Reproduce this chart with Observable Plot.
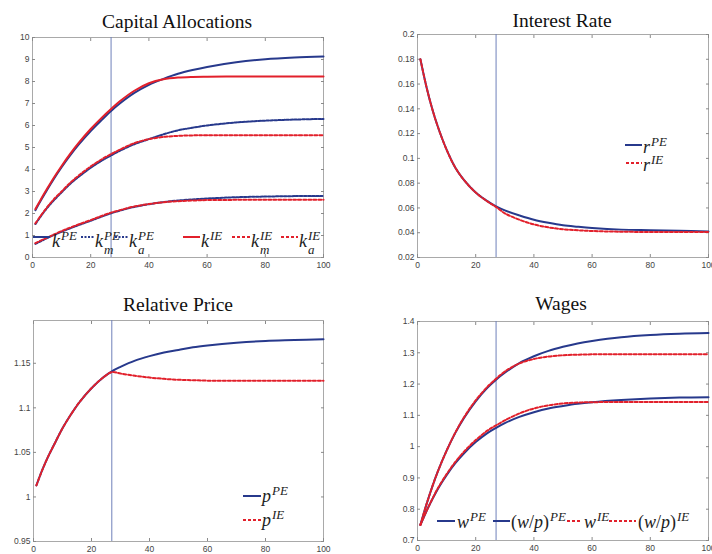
<!DOCTYPE html>
<html><head><meta charset="utf-8">
<script src="https://cdn.jsdelivr.net/npm/d3@7"></script>
<script src="https://cdn.jsdelivr.net/npm/@observablehq/plot@0.6"></script>
<style>
html,body{margin:0;padding:0;background:#fff;}
#root{position:relative;width:712px;height:554px;overflow:hidden;background:#fff;}
.title{position:absolute;font-family:"Liberation Serif","Times New Roman",serif;font-size:19.5px;line-height:20px;color:#111;transform:translateX(-50%);white-space:nowrap;}
.lg{position:absolute;font-family:"Liberation Serif","Times New Roman",serif;font-style:italic;font-size:18px;line-height:14px;color:#222;white-space:nowrap;}
.lg .up{font-style:normal;}
.sp{font-size:13px;line-height:9px;position:relative;top:-7px;margin-left:1px;}
.st{position:relative;display:inline-block;font-size:13px;line-height:9px;margin-left:1px;}
.st .a{position:relative;top:-7px;line-height:9px;}
.st .b{position:absolute;left:0;top:7px;line-height:9px;}
#overlay{position:absolute;left:0;top:0;pointer-events:none;}
</style>
</head><body>
<div id="root"></div>
<script>
// ---------- data ----------
const t = [1,3,5,7,10,13,16,20,24,27,30,35,40,45,50,55,60,70,80,90,100];
const xTicks = [0,20,40,60,80,100];
const vline = [27];

// Capital Allocations
const kPE  = [2.15,2.62,3.07,3.5,4.1,4.65,5.15,5.75,6.28,6.66,7.0,7.48,7.85,8.12,8.35,8.52,8.66,8.87,9.01,9.09,9.14];
const kmPE = [1.52,1.9,2.25,2.55,2.96,3.35,3.68,4.08,4.42,4.64,4.85,5.15,5.38,5.6,5.78,5.9,6.0,6.14,6.22,6.27,6.3];
const kaPE = [0.62,0.75,0.88,1.0,1.17,1.33,1.48,1.67,1.87,2.01,2.13,2.3,2.42,2.52,2.59,2.64,2.68,2.74,2.77,2.79,2.8];
const kIE  = [2.2,2.67,3.12,3.56,4.16,4.72,5.23,5.84,6.38,6.75,7.1,7.58,7.92,8.1,8.18,8.21,8.22,8.23,8.23,8.23,8.23];
const kmIE = [1.55,1.93,2.28,2.6,3.0,3.4,3.74,4.14,4.48,4.7,4.9,5.2,5.38,5.48,5.53,5.55,5.56,5.56,5.56,5.56,5.56];
const kaIE = [0.65,0.78,0.9,1.02,1.2,1.36,1.51,1.7,1.9,2.04,2.15,2.32,2.43,2.51,2.56,2.59,2.61,2.62,2.62,2.62,2.62];
const capTicks = [0,1,2,3,4,5,6,7,8,9,10];

// Interest Rate
const rPE = [0.18,0.1585,0.1405,0.1255,0.107,0.0925,0.0825,0.0725,0.0655,0.0612,0.058,0.054,0.0505,0.048,0.046,0.0448,0.0438,0.0425,0.042,0.0415,0.041];
const rIE = [0.18,0.1585,0.1405,0.1255,0.107,0.0925,0.0825,0.0724,0.0653,0.0608,0.0557,0.0505,0.0467,0.0443,0.0428,0.042,0.0414,0.0408,0.0406,0.0405,0.0405];
const rTicks = [0.02,0.04,0.06,0.08,0.1,0.12,0.14,0.16,0.18,0.2];

// Relative Price
const pPE = [1.013,1.03,1.045,1.058,1.077,1.093,1.107,1.122,1.134,1.141,1.146,1.153,1.158,1.162,1.165,1.168,1.170,1.173,1.175,1.176,1.177];
const pIE = [1.013,1.03,1.045,1.058,1.077,1.093,1.107,1.122,1.134,1.140,1.1385,1.136,1.134,1.1325,1.1315,1.131,1.1305,1.1303,1.1303,1.1303,1.1303];
const pTicks = [0.95,1,1.05,1.1,1.15];

// Wages
const wPE  = [0.75,0.813,0.87,0.921,0.987,1.044,1.092,1.145,1.188,1.214,1.236,1.267,1.289,1.306,1.319,1.33,1.338,1.35,1.357,1.361,1.363];
const wpPE = [0.75,0.792,0.83,0.865,0.909,0.947,0.979,1.0145,1.043,1.06,1.075,1.095,1.11,1.122,1.13,1.137,1.142,1.149,1.154,1.157,1.158];
const wIE  = [0.75,0.813,0.87,0.921,0.987,1.045,1.094,1.148,1.191,1.217,1.24,1.266,1.28,1.288,1.292,1.294,1.295,1.295,1.295,1.295,1.295];
const wpIE = [0.75,0.792,0.831,0.867,0.912,0.951,0.984,1.021,1.051,1.068,1.084,1.106,1.122,1.132,1.138,1.141,1.142,1.143,1.143,1.143,1.143];
const wTicks = [0.7,0.8,0.9,1,1.1,1.2,1.3,1.4];

// ---------- drawing ----------
const BLUE = "#27398c", RED = "#e2202b", VLINE = "#6f80ba";
const root = document.getElementById("root");
const rows = ys => t.map((x, i) => ({x, y: ys[i]}));

function panel(cfg) {
  const axisStyle = {stroke: "#8a8a8a", label: null};
  const marks = [
    Plot.frame({stroke: "#a9a9a9"}),
    Plot.axisX({ticks: xTicks, tickSize: -3, tickPadding: 7, ...axisStyle}),
    Plot.axisX({anchor: "top", ticks: xTicks, tickSize: -3, tickFormat: () => "", ...axisStyle}),
    Plot.axisY({ticks: cfg.yTicks, tickSize: -3, tickPadding: 6, tickFormat: d => String(d), ...axisStyle}),
    Plot.axisY({anchor: "right", ticks: cfg.yTicks, tickSize: -3, tickFormat: () => "", ...axisStyle}),
    Plot.ruleX(vline, {stroke: VLINE, strokeWidth: 1}),
    ...cfg.series.map(s => Plot.line(rows(s.values), {
      x: "x", y: "y", stroke: s.color, strokeWidth: 2,
      strokeDasharray: s.dash || null, curve: "catmull-rom"
    }))
  ];
  const svg = Plot.plot({
    width: cfg.w, height: cfg.h,
    marginLeft: cfg.m[0], marginTop: cfg.m[1], marginRight: cfg.m[2], marginBottom: cfg.m[3],
    x: {domain: [0, 100]},
    y: {domain: cfg.yDomain},
    style: {fontSize: "8.5px", fontFamily: "'Liberation Sans', Arial, sans-serif", color: "#444", background: "transparent", overflow: "visible"},
    marks
  });
  svg.style.position = "absolute";
  svg.style.left = cfg.left + "px";
  svg.style.top = cfg.top + "px";
  root.appendChild(svg);
  const ti = document.createElement("div");
  ti.className = "title";
  ti.textContent = cfg.title;
  ti.style.left = cfg.titleX + "px";
  ti.style.top = (cfg.titleBase - 15.5) + "px";
  root.appendChild(ti);
}

panel({left: 0, top: 0, w: 345, h: 275, m: [32, 37, 22, 18], yDomain: [0, 10], yTicks: capTicks,
  title: "Capital Allocations", titleX: 177, titleBase: 27,
  series: [
    {values: kPE, color: BLUE},
    {values: kmPE, color: BLUE, dash: "2.5,1.5"},
    {values: kaPE, color: BLUE, dash: "2.5,1.5"},
    {values: kIE, color: RED},
    {values: kmIE, color: RED, dash: "3,2"},
    {values: kaIE, color: RED, dash: "3,2"}
  ]});
panel({left: 360, top: 0, w: 352, h: 275, m: [57, 34, 4, 18], yDomain: [0.02, 0.2], yTicks: rTicks,
  title: "Interest Rate", titleX: 562, titleBase: 26,
  series: [{values: rPE, color: BLUE}, {values: rIE, color: RED, dash: "3,2"}]});
panel({left: 0, top: 280, w: 345, h: 274, m: [33, 40, 22, 13], yDomain: [0.95, 1.198], yTicks: pTicks,
  title: "Relative Price", titleX: 178, titleBase: 310,
  series: [{values: pPE, color: BLUE}, {values: pIE, color: RED, dash: "3,2"}]});
panel({left: 360, top: 280, w: 352, h: 274, m: [57, 41, 4, 14], yDomain: [0.7, 1.4], yTicks: wTicks,
  title: "Wages", titleX: 561, titleBase: 309,
  series: [{values: wPE, color: BLUE}, {values: wpPE, color: BLUE}, {values: wIE, color: RED, dash: "3,2"}, {values: wpIE, color: RED, dash: "3,2"}]});

// ---------- legends ----------
const overlay = d3.select(root).append("svg").attr("id", "overlay").attr("width", 712).attr("height", 554);
function item(x1, x2, y, color, dash, lx, base, html) {
  overlay.append("line").attr("x1", x1).attr("x2", x2).attr("y1", y).attr("y2", y)
    .attr("stroke", color).attr("stroke-width", 2).attr("stroke-dasharray", dash || null);
  const d = document.createElement("div");
  d.className = "lg";
  d.innerHTML = html;
  d.style.left = lx + "px";
  d.style.top = (base - 12) + "px";
  root.appendChild(d);
}
const sup = (b, s) => `${b}<span class="sp">${s}</span>`;
const ss = (b, s, sub) => `${b}<span class="st"><span class="a">${s}</span><span class="b">${sub}</span></span>`;
const wp = `<span class="up">(</span>w<span class="up">/</span>p<span class="up">)</span>`;

item(33, 50, 237, BLUE, null, 52, 246, sup("k", "PE"));
item(81, 95, 237, BLUE, "2,1.5", 95, 246, ss("k", "PE", "m"));
item(115, 129, 237, BLUE, "2,1.5", 129, 246, ss("k", "PE", "a"));
item(183, 200, 237, RED, null, 201, 246, sup("k", "IE"));
item(232, 250, 237, RED, "3,2", 251, 246, ss("k", "IE", "m"));
item(281, 298, 237, RED, "3,2", 299, 246, ss("k", "IE", "a"));

item(625, 642, 145, BLUE, null, 643, 152, sup("r", "PE"));
item(626, 642, 163, RED, "3,2", 643, 170, sup("r", "IE"));

item(243, 261, 496, BLUE, null, 262, 501, sup("p", "PE"));
item(243, 261, 520, RED, "3,2", 262, 525, sup("p", "IE"));

item(437, 455, 521, BLUE, null, 457, 527, sup("w", "PE"));
item(493, 510, 521, BLUE, null, 511, 527, sup(wp, "PE"));
item(567, 582, 521, RED, "3,2", 584, 527, sup("w", "IE"));
item(609, 636, 521, RED, "3,2", 638, 527, sup(wp, "IE"));
</script>
</body></html>
